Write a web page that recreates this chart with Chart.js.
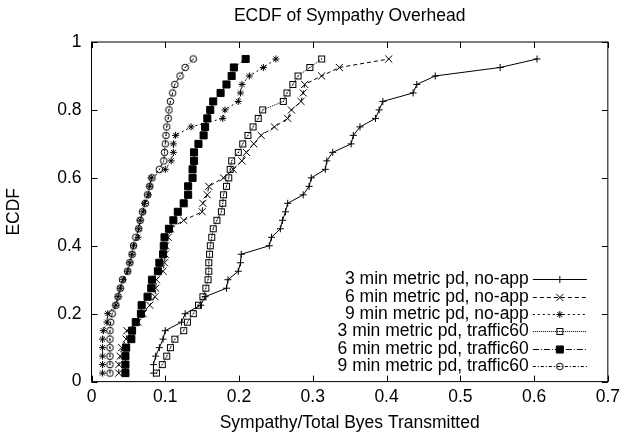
<!DOCTYPE html>
<html>
<head>
<meta charset="utf-8">
<title>ECDF of Sympathy Overhead</title>
<script src="https://cdn.jsdelivr.net/npm/chart.js@4.4.1/dist/chart.umd.min.js"></script>
<style>
  html, body { margin: 0; padding: 0; background: #fff; }
  #ecdf-chart { display: block; }
</style>
</head>
<body>
<canvas id="ecdf-chart" width="625" height="439"></canvas>
<script>
// ECDF levels (i/40) shared by every series
var ecdfLevels = [0.025, 0.05, 0.075, 0.1, 0.125, 0.15, 0.175, 0.2, 0.225, 0.25,
  0.275, 0.3, 0.325, 0.35, 0.375, 0.4, 0.425, 0.45, 0.475, 0.5,
  0.525, 0.55, 0.575, 0.6, 0.625, 0.65, 0.675, 0.7, 0.725, 0.75,
  0.775, 0.8, 0.825, 0.85, 0.875, 0.9, 0.925, 0.95];

// sympathy / total bytes
var noApp3 = [0.084, 0.084, 0.087, 0.092, 0.097, 0.100, 0.122, 0.127, 0.148, 0.154,
  0.183, 0.185, 0.199, 0.202, 0.203, 0.241, 0.244, 0.256, 0.259, 0.263,
  0.266, 0.287, 0.295, 0.298, 0.317, 0.319, 0.327, 0.352, 0.355, 0.364,
  0.385, 0.390, 0.395, 0.436, 0.441, 0.466, 0.554, 0.604];
var noApp6 = [0.037, 0.037, 0.039, 0.041, 0.047, 0.048, 0.063, 0.070, 0.079, 0.086,
  0.087, 0.088, 0.097, 0.099, 0.100, 0.101, 0.104, 0.107, 0.125, 0.150,
  0.151, 0.157, 0.159, 0.179, 0.192, 0.204, 0.210, 0.220, 0.230, 0.248,
  0.266, 0.271, 0.284, 0.287, 0.289, 0.312, 0.336, 0.403];
var noApp9 = [0.015, 0.015, 0.015, 0.015, 0.015, 0.016, 0.021, 0.022, 0.033, 0.036,
  0.039, 0.043, 0.049, 0.052, 0.055, 0.057, 0.063, 0.064, 0.066, 0.070,
  0.072, 0.077, 0.079, 0.081, 0.100, 0.108, 0.111, 0.111, 0.114, 0.135,
  0.178, 0.181, 0.199, 0.202, 0.204, 0.214, 0.233, 0.250];
var traffic3 = [0.088, 0.096, 0.102, 0.107, 0.113, 0.125, 0.130, 0.138, 0.145, 0.151,
  0.155, 0.158, 0.159, 0.159, 0.160, 0.161, 0.163, 0.165, 0.170, 0.176,
  0.178, 0.179, 0.183, 0.186, 0.188, 0.190, 0.199, 0.205, 0.212, 0.219,
  0.226, 0.232, 0.260, 0.265, 0.273, 0.280, 0.296, 0.312];
var traffic6 = [0.046, 0.046, 0.046, 0.047, 0.054, 0.055, 0.060, 0.067, 0.068, 0.076,
  0.081, 0.082, 0.090, 0.092, 0.097, 0.098, 0.099, 0.105, 0.111, 0.117,
  0.125, 0.131, 0.131, 0.137, 0.137, 0.139, 0.139, 0.145, 0.152, 0.154,
  0.157, 0.161, 0.165, 0.175, 0.183, 0.190, 0.193, 0.209];
var traffic9 = [0.025, 0.025, 0.025, 0.025, 0.025, 0.025, 0.026, 0.028, 0.033, 0.036,
  0.039, 0.042, 0.049, 0.052, 0.055, 0.057, 0.060, 0.064, 0.066, 0.069,
  0.073, 0.076, 0.079, 0.082, 0.092, 0.098, 0.099, 0.100, 0.101, 0.102,
  0.104, 0.105, 0.107, 0.110, 0.113, 0.120, 0.127, 0.138];

var seriesNames = [
  "3 min metric pd, no-app",
  "6 min metric pd, no-app",
  "9 min metric pd, no-app",
  "3 min metric pd, traffic60",
  "6 min metric pd, traffic60",
  "9 min metric pd, traffic60"
];
var xTickLabels = ["0", "0.1", "0.2", "0.3", "0.4", "0.5", "0.6", "0.7"];
var yTickLabels = ["0", "0.2", "0.4", "0.6", "0.8", "1"];
var chartTitle = "ECDF of Sympathy Overhead";

var FONT = '"Liberation Sans", Arial, Helvetica, sans-serif';
var FONT_SIZE = 17.5;
Chart.defaults.font.family = FONT;
Chart.defaults.font.size = FONT_SIZE;
Chart.defaults.color = "#000";

// small bitmap markers for the open square / open circle with a centre dot
function makeMarker(kind) {
  var c = document.createElement("canvas");
  c.width = 9;
  c.height = 9;
  var g = c.getContext("2d");
  g.strokeStyle = "#000";
  g.fillStyle = "#000";
  g.lineWidth = 1;
  if (kind === "box") {
    g.strokeRect(1.5, 1.5, 6, 6);
  } else {
    g.beginPath();
    g.arc(4.5, 4.5, 3.3, 0, Math.PI * 2);
    g.stroke();
  }
  g.fillRect(4, 4, 1, 1);
  return c;
}

function toPoints(xs) {
  return xs.map(function (x, i) {
    return { x: x, y: ecdfLevels[i] };
  });
}

function series(name, xs, dash, style, radius, fill) {
  return {
    label: name,
    data: toPoints(xs),
    showLine: true,
    borderColor: "#000",
    borderWidth: 1,
    borderDash: dash,
    pointStyle: style,
    pointRadius: radius,
    pointBorderWidth: 1,
    pointBorderColor: "#000",
    pointBackgroundColor: fill,
    backgroundColor: fill
  };
}

var datasets = [
  series(seriesNames[0], noApp3, [], "cross", 3.5, "#000"),
  series(seriesNames[1], noApp6, [4, 3], "crossRot", 5, "#000"),
  series(seriesNames[2], noApp9, [2, 3], "star", 3.5, "#000"),
  series(seriesNames[3], traffic3, [1, 1], makeMarker("box"), 4, "#fff"),
  series(seriesNames[4], traffic6, [6, 2, 1, 2], "rect", 5, "#000"),
  series(seriesNames[5], traffic9, [3, 2, 1, 2], makeMarker("ring"), 4, "#fff")
];

// gnuplot-like frame: border, inward ticks, title and key
var gnuplotFrame = {
  id: "gnuplotFrame",
  afterDraw: function (chart) {
    var ctx = chart.ctx;
    var area = chart.chartArea;
    var xs = chart.scales.x;
    var ys = chart.scales.y;
    var tick = 6;

    ctx.save();
    ctx.strokeStyle = "#000";
    ctx.lineWidth = 1;
    ctx.setLineDash([]);
    ctx.strokeRect(area.left, area.top, area.right - area.left, area.bottom - area.top);

    ctx.beginPath();
    xs.ticks.forEach(function (t) {
      var px = Math.round(xs.getPixelForValue(t.value)) + 0.5;
      ctx.moveTo(px, area.bottom);
      ctx.lineTo(px, area.bottom - tick);
      ctx.moveTo(px, area.top);
      ctx.lineTo(px, area.top + tick);
    });
    ys.ticks.forEach(function (t) {
      var py = Math.round(ys.getPixelForValue(t.value)) + 0.5;
      ctx.moveTo(area.left, py);
      ctx.lineTo(area.left + tick, py);
      ctx.moveTo(area.right, py);
      ctx.lineTo(area.right - tick, py);
    });
    ctx.stroke();

    ctx.fillStyle = "#000";
    ctx.font = FONT_SIZE + "px " + FONT;
    ctx.textAlign = "center";
    ctx.textBaseline = "middle";
    ctx.fillText(chartTitle, (area.left + area.right) / 2, 16);

    // key, bottom right inside the plot
    var n = chart.data.datasets.length;
    chart.data.datasets.forEach(function (ds, i) {
      var y = Math.round(area.bottom - 15.5 - (n - 1 - i) * 17.35) + 0.5;
      ctx.textAlign = "right";
      ctx.fillStyle = "#000";
      ctx.fillText(ds.label, area.right - 79, y);

      ctx.setLineDash(ds.borderDash);
      ctx.beginPath();
      ctx.moveTo(area.right - 75, y);
      ctx.lineTo(area.right - 21, y);
      ctx.stroke();
      ctx.setLineDash([]);

      ctx.fillStyle = ds.pointBackgroundColor;
      ctx.strokeStyle = "#000";
      Chart.helpers.drawPoint(ctx, {
        pointStyle: ds.pointStyle,
        radius: ds.pointRadius,
        borderWidth: 1,
        rotation: 0
      }, area.right - 48, y);
    });
    ctx.restore();
  }
};

var ctx = document.getElementById("ecdf-chart").getContext("2d");
var ecdfChart = new Chart(ctx, {
  type: "scatter",
  data: { datasets: datasets },
  plugins: [gnuplotFrame],
  options: {
    responsive: false,
    animation: false,
    devicePixelRatio: 1,
    layout: { padding: { top: 42, right: 16.5, bottom: 1, left: 0 } },
    plugins: {
      legend: { display: false },
      title: { display: false },
      tooltip: { enabled: false }
    },
    scales: {
      x: {
        type: "linear",
        min: 0,
        max: 0.7,
        grid: { display: false, drawTicks: false },
        border: { display: false },
        ticks: {
          stepSize: 0.1,
          padding: 5,
          maxRotation: 0,
          autoSkip: false,
          callback: function (value, index) {
            return xTickLabels[index];
          }
        },
        title: {
          display: true,
          text: "Sympathy/Total Byes Transmitted",
          padding: { top: 4, bottom: 4 }
        },
        afterFit: function (scale) {
          scale.height = 56.4;
        }
      },
      y: {
        type: "linear",
        min: 0,
        max: 1,
        grid: { display: false, drawTicks: false },
        border: { display: false },
        ticks: {
          stepSize: 0.2,
          padding: 10,
          callback: function (value, index) {
            return yTickLabels[index];
          }
        },
        title: {
          display: true,
          text: "ECDF",
          padding: { top: 4, bottom: 4 }
        },
        afterFit: function (scale) {
          scale.width = 91.5;
        }
      }
    }
  }
});
</script>
</body>
</html>
